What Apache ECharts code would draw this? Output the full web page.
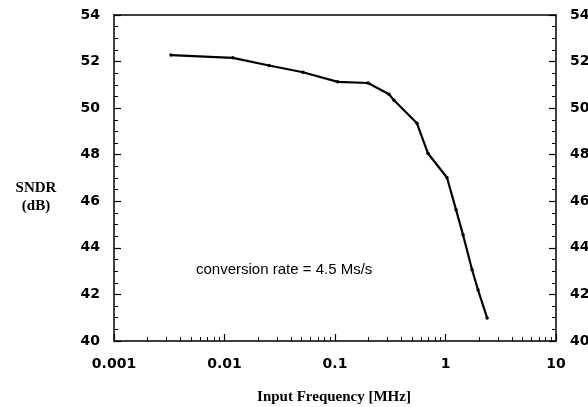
<!DOCTYPE html>
<html>
<head>
<meta charset="utf-8">
<script src="https://cdn.jsdelivr.net/npm/echarts@6/dist/echarts.min.js"></script>
<style>html,body{margin:0;padding:0;background:#fff}#c{width:588px;height:407px}</style>
</head>
<body>
<div id="c"></div>
<script>
// Data
var freqMHz = [0.00328, 0.0119, 0.0253, 0.0513, 0.106, 0.199, 0.308, 0.342, 0.552, 0.695, 1.03, 1.245, 1.44, 1.74, 1.97, 2.38];
var sndrDb  = [52.28, 52.16, 51.83, 51.54, 51.13, 51.08, 50.60, 50.34, 49.35, 48.05, 47.02, 45.64, 44.56, 43.06, 42.19, 40.99];
var xMajorTicks = [0.001, 0.01, 0.1, 1, 10];
var xMinorTicks = [0.002,0.003,0.004,0.005,0.006,0.007,0.008,0.009,
                   0.02,0.03,0.04,0.05,0.06,0.07,0.08,0.09,
                   0.2,0.3,0.4,0.5,0.6,0.7,0.8,0.9,
                   2,3,4,5,6,7,8,9];
var yTicks = [40, 42, 44, 46, 48, 50, 52, 54];
var xTitle = 'Input Frequency [MHz]';
var yTitleLine1 = 'SNDR';
var yTitleLine2 = '(dB)';
var note = 'conversion rate = 4.5 Ms/s';

var tickFont = {fontFamily: 'DejaVu Sans', fontWeight: 'bold', fontSize: 14, color: '#000'};
var chart = echarts.init(document.getElementById('c'));
var axLine = {show: true, lineStyle: {color: '#000', width: 1.5}};
chart.setOption({
  animation: false,
  grid: {left: 114, right: 32, top: 15, bottom: 66, outerBoundsMode: 'none', containLabel: false},
  xAxis: [
    {type: 'log', logBase: 10, min: 0.001, max: 10, position: 'bottom',
     axisLine: axLine,
     axisTick: {show: true, inside: true, length: 7, customValues: xMajorTicks, lineStyle: {color: '#000', width: 1.2}},
     axisLabel: Object.assign({margin: 16, customValues: xMajorTicks,
       formatter: function (v) { return String(+v.toPrecision(3)); }}, tickFont),
     splitLine: {show: false}},
    {type: 'log', logBase: 10, min: 0.001, max: 10, position: 'bottom',
     axisLine: {show: false},
     axisTick: {show: true, inside: true, length: 4, customValues: xMinorTicks, lineStyle: {color: '#000', width: 1}},
     axisLabel: {show: false}, splitLine: {show: false}},
    {type: 'log', logBase: 10, min: 0.001, max: 10, position: 'top',
     axisLine: axLine, axisTick: {show: false}, axisLabel: {show: false}, splitLine: {show: false}}
  ],
  yAxis: [
    {type: 'value', min: 40, max: 54, interval: 2, position: 'left',
     axisLine: axLine,
     axisTick: {show: true, inside: true, length: 7, lineStyle: {color: '#000', width: 1.2}},
     minorTick: {show: true, splitNumber: 4, length: 4, lineStyle: {color: '#000', width: 1}},
     axisLabel: Object.assign({margin: 14}, tickFont),
     splitLine: {show: false}, minorSplitLine: {show: false}},
    {type: 'value', min: 40, max: 54, interval: 2, position: 'right',
     axisLine: axLine,
     axisTick: {show: true, inside: true, length: 7, lineStyle: {color: '#000', width: 1.2}},
     minorTick: {show: true, splitNumber: 4, length: 4, lineStyle: {color: '#000', width: 1}},
     axisLabel: Object.assign({margin: 14}, tickFont),
     splitLine: {show: false}, minorSplitLine: {show: false}}
  ],
  series: [{
    type: 'line',
    xAxisIndex: 0, yAxisIndex: 0,
    data: freqMHz.map(function (f, i) { return [f, sndrDb[i]]; }),
    symbol: 'circle', symbolSize: 3.5,
    itemStyle: {color: '#000'},
    lineStyle: {color: '#000', width: 2.2}
  }],
  graphic: [
    {type: 'text', left: 196, top: 262,
     style: {text: note, fontFamily: 'Liberation Sans', fontSize: 15, fill: '#000'}},
    {type: 'text', x: 334, y: 397,
     style: {text: xTitle, fontFamily: 'Liberation Serif', fontWeight: 'bold', fontSize: 15, fill: '#000', align: 'center', verticalAlign: 'middle'}},
    {type: 'text', x: 36, y: 188,
     style: {text: yTitleLine1, fontFamily: 'Liberation Serif', fontWeight: 'bold', fontSize: 15, fill: '#000', align: 'center', verticalAlign: 'middle'}},
    {type: 'text', x: 36, y: 206,
     style: {text: yTitleLine2, fontFamily: 'Liberation Serif', fontWeight: 'bold', fontSize: 15, fill: '#000', align: 'center', verticalAlign: 'middle'}}
  ]
});
</script>
</body>
</html>
